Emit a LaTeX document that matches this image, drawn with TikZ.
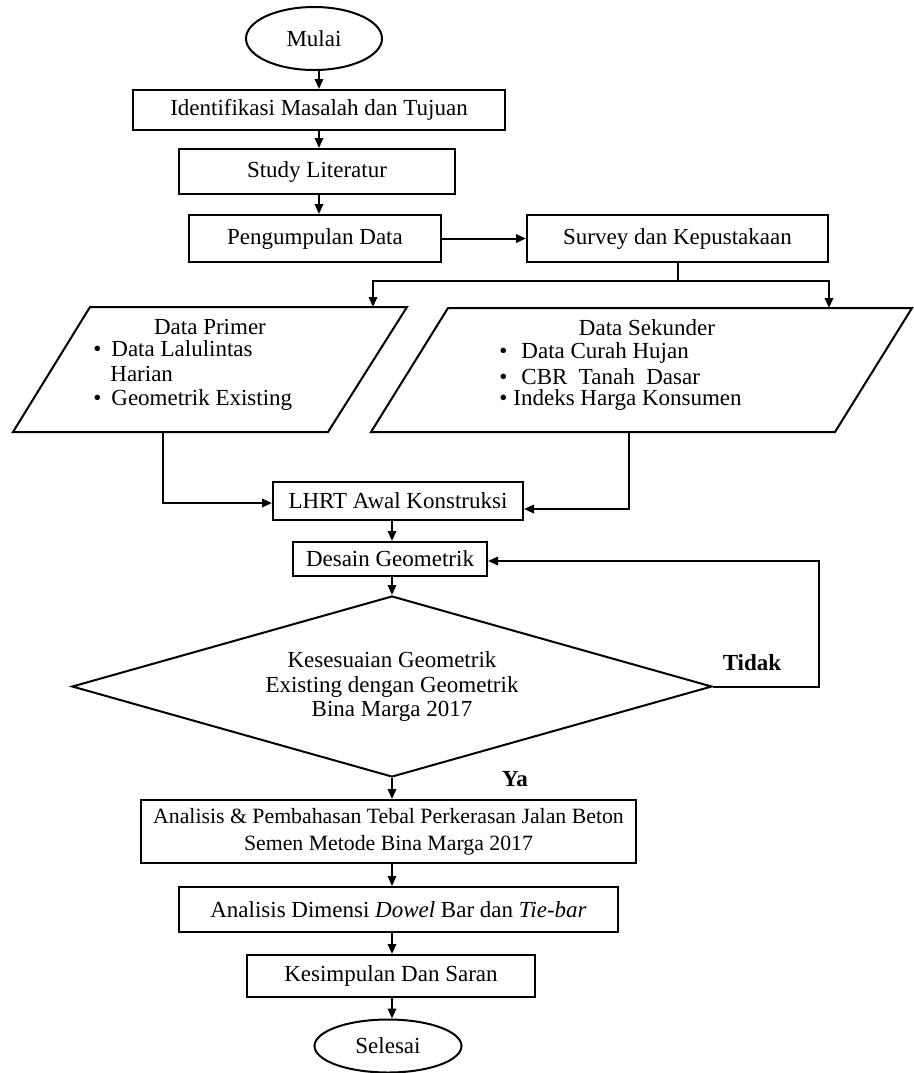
\documentclass[tikz,border=0pt]{standalone}
\usepackage{fontspec}
\setmainfont{Liberation Serif}
\usetikzlibrary{shapes.geometric,arrows.meta,calc}
\newcommand{\fsz}{\fontsize{11.5}{12.2}\selectfont}
\tikzset{
  fbox/.style={draw, line width=1pt, rectangle, inner sep=0pt, align=center, font=\fsz},
  term/.style={draw, line width=1pt, ellipse, inner sep=0pt, font=\fsz},
  arr/.style={line width=1pt, -{Triangle[length=5pt,width=4.2pt]}},
  ln/.style={line width=1pt},
  txt/.style={font=\fsz, inner sep=0pt},
}
\begin{document}
\begin{tikzpicture}[x=0.5pt,y=-0.5pt]
\useasboundingbox (0,0) rectangle (914,1073);
\fill[white] (0,0) rectangle (914,1073);

% top chain
\node[term, minimum width=68pt, minimum height=31.5pt] (mulai) at (314,38.5) {Mulai};
\node[fbox, minimum width=186pt, minimum height=20pt] (ident) at (319,110) {Identifikasi Masalah dan Tujuan};
\node[fbox, minimum width=138pt, minimum height=22.5pt] (study) at (317,171.5) {Study Literatur};
\node[fbox, minimum width=126pt, minimum height=23.5pt] (kumpul) at (315,238.5) {Pengumpulan Data};
\node[fbox, minimum width=150.5pt, minimum height=23.5pt] (survey) at (677.5,238.5) {Survey dan Kepustakaan};

\draw[arr] (mulai.south -| ident.north) -- (ident.north);
\draw[arr] (ident.south) -- (ident.south |- study.north);
\draw[arr] (study.south -| ident.south) -- (ident.south |- kumpul.north);
\draw[arr] (kumpul.east) -- (survey.west);

% branch
\coordinate (br) at (677.5,281);
\coordinate (ptop) at (373,307);
\coordinate (stop) at (829,308);
\draw[ln] (survey.south) -- (br);
\draw[arr] (br) -| (ptop);
\draw[arr] (br) -| (stop);

% parallelograms
\coordinate (p1) at (90,307);
\coordinate (p2) at (407,307);
\coordinate (p3) at (328,432);
\coordinate (p4) at (13,432);
\draw[ln] (p1) -- (p2) -- (p3) -- (p4) -- cycle;
\coordinate (s1) at (448,308);
\coordinate (s2) at (912,308);
\coordinate (s3) at (835,432);
\coordinate (s4) at (371,432);
\draw[ln] (s1) -- (s2) -- (s3) -- (s4) -- cycle;

\node[txt] (pt0) at (210,327) {Data Primer};
\node[txt, anchor=west] (pt1) at (93,349) {•\hspace{5pt}Data Lalulintas};
\node[txt, anchor=west] (pt2) at (110,374) {Harian};
\node[txt, anchor=west] (pt3) at (93,400) {•\hspace{5pt}Geometrik Existing};

\node[txt] (st0) at (647,328) {Data Sekunder};
\node[txt, anchor=west] (st1) at (499,353) {•\hspace{7pt}Data Curah Hujan};
\node[txt, anchor=west] (st2) at (499,377) {•\hspace{7pt}CBR~ Tanah~ Dasar};
\node[txt, anchor=west] (st3) at (499,400) {•\hspace{3pt}Indeks Harga Konsumen};

% merge
\node[fbox, minimum width=125pt, minimum height=19pt] (lhrt) at (398,501) {LHRT Awal Konstruksi};
\coordinate (pbot) at (163,432);
\coordinate (sbot) at (629,432);
\draw[arr] (pbot) |- ([yshift=-1pt]lhrt.west);
\draw[arr] (sbot) |- ([yshift=-4pt]lhrt.east);

\node[fbox, minimum width=97pt, minimum height=17pt] (desain) at (390,559) {Desain Geometrik};
\node[draw, line width=1pt, diamond, aspect=3.5, inner sep=0pt, minimum width=320pt, minimum height=90.5pt, align=center, font=\fsz] (dia) at (392,686.5) {Kesesuaian Geometrik\\Existing dengan Geometrik\\Bina Marga 2017};

\draw[arr] (lhrt.south -| dia.north) -- (dia.north |- desain.north);
\draw[arr] (desain.south -| dia.north) -- (dia.north);

\coordinate (lp) at (819,686.5);
\draw[arr] (dia.east) -- (lp) |- ([yshift=-1pt]desain.east);
\node[txt, font=\fsz\bfseries] (tidak) at (752,663) {Tidak};

\node[fbox, minimum width=247.5pt, minimum height=31.5pt, font=\fontsize{10.9}{12.2}\selectfont] (anal) at (388.5,831.5) {Analisis \& Pembahasan Tebal Perkerasan Jalan Beton\\[1.5pt]Semen Metode Bina Marga 2017};
\node[txt, font=\fsz\bfseries] (ya) at (515,779) {Ya};
\draw[arr] (dia.south) -- (dia.south |- anal.north);

\node[fbox, minimum width=219.5pt, minimum height=22.5pt] (dowel) at (398.5,909.5) {Analisis Dimensi \textit{Dowel} Bar dan \textit{Tie-bar}};
\node[fbox, minimum width=144pt, minimum height=21pt] (kesim) at (391,976) {Kesimpulan Dan Saran};
\node[term, minimum width=73.5pt, minimum height=26.5pt] (selesai) at (388,1046) {Selesai};

\draw[arr] (anal.south -| dia.south) -- (dia.south |- dowel.north);
\draw[arr] (dowel.south -| dia.south) -- (dia.south |- kesim.north);
\draw[arr] (kesim.south -| dia.south) -- (dia.south |- selesai.north);
\end{tikzpicture}
\end{document}
